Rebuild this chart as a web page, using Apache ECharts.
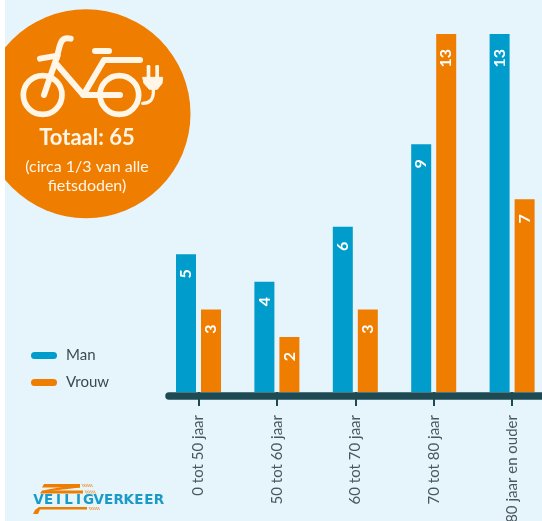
<!DOCTYPE html>
<html lang="nl">
<head>
    <meta charset="UTF-8">
    <title>Fietsdoden e-bike</title>
    <style>
        * { margin: 0; padding: 0; }
        html, body { background: #fff; overflow: hidden; }
        #myEcharts { width: 542px; height: 521px; }
    </style>
</head>
<body>
    <div id="myEcharts"></div>
    <script src="https://cdn.jsdelivr.net/npm/echarts@6/dist/echarts.min.js"></script>
    <script>
        var categories = ['0 tot 50 jaar', '50 tot 60 jaar', '60 tot 70 jaar', '70 tot 80 jaar', '80 jaar en ouder'];
        var manValues = [5, 4, 6, 9, 13];
        var vrouwValues = [3, 2, 3, 13, 7];
        var valueMax = 13;

        var BG = '#e6f4fc', BLUE = '#009ccb', ORANGE = '#ef7d00', DARK = '#1e4a54', CREAM = '#fff6e8';
        var FONT = 'Lato, "Noto Sans", sans-serif';

        function stroke(width) {
            return { fill: null, stroke: CREAM, lineWidth: width, lineCap: 'round', lineJoin: 'round' };
        }

        // fiets-icoon, getekend in 3x coordinaten en daarna terug geschaald
        function bikeIcon() {
            var lines = [
                [[172, 167], [132, 285]],
                [[120, 176], [172, 167]],
                [[172, 195], [250, 285], [360, 285]],
                [[250, 285], [312, 180], [420, 180]],
                [[285, 153], [327, 153]]
            ];
            var children = [
                { type: 'circle', z: 11, shape: { cx: 128, cy: 285, r: 58 }, style: stroke(17) },
                { type: 'circle', z: 11, shape: { cx: 358, cy: 285, r: 58 }, style: stroke(17) },
                { type: 'bezierCurve', z: 11, shape: { x1: 212, y1: 116, cpx1: 180, cpy1: 108, cpx2: 180, cpy2: 135, x2: 170, y2: 175 }, style: stroke(18) },
                { type: 'bezierCurve', z: 11, shape: { x1: 460, y1: 268, cpx1: 462, cpy1: 300, cpx2: 448, cpy2: 310, x2: 428, y2: 310 }, style: stroke(10) },
                { type: 'polygon', z: 11, shape: { points: [[428, 232], [488, 232], [486, 250], [472, 268], [448, 268], [432, 250]] }, style: { fill: CREAM, stroke: CREAM, lineWidth: 3, lineJoin: 'round' } },
                { type: 'rect', z: 11, shape: { x: 440, y: 195, width: 11, height: 40, r: 4 }, style: { fill: CREAM } },
                { type: 'rect', z: 11, shape: { x: 466, y: 195, width: 11, height: 40, r: 4 }, style: { fill: CREAM } }
            ];
            lines.forEach(function (pts) {
                children.push({ type: 'polyline', z: 11, shape: { points: pts }, style: stroke(18) });
            });
            return { type: 'group', scaleX: 1 / 3, scaleY: 1 / 3, children: children };
        }

        // logo VeiligVerkeer
        function logo() {
            var word = 'VEILIGVERKEER';
            var children = [];
            var stripes = [
                [[44, 484], [80, 484], [80, 487.5], [42, 487.5]],
                [[42, 490.5], [83, 490.5], [83, 493.5], [40, 493.5]],
                [[80, 484], [80, 487.5], [50, 491], [42, 490.5]],
                [[39, 507], [87, 507], [87, 509.5], [40, 509.5], [38, 514], [33, 514], [35, 510]]
            ];
            stripes.forEach(function (pts) {
                children.push({ type: 'polygon', shape: { points: pts }, style: { fill: ORANGE } });
            });
            // arcering achter de strepen
            [[81, 484, 6], [84, 490.5, 6], [88, 507, 6]].forEach(function (h) {
                for (var k = 0; k < h[2]; k++) {
                    children.push({
                        type: 'line',
                        shape: { x1: h[0] + k * 1.8 + 1, y1: h[1], x2: h[0] + k * 1.8 + 2.5, y2: h[1] + 3 },
                        style: { stroke: ORANGE, lineWidth: 0.9, opacity: 0.75 }
                    });
                }
            });
            for (var i = 0; i < word.length; i++) {
                children.push({
                    type: 'text',
                    style: {
                        x: 38.5 + i * 10.03, y: 500, text: word[i], fill: '#1a9ac6',
                        font: 'bold 13.5px "DejaVu Sans", sans-serif', align: 'center', verticalAlign: 'middle'
                    }
                });
            }
            return { type: 'group', children: children };
        }

        var option = {
            backgroundColor: BG,
            animation: false,
            grid: { left: 159.3, width: 392, top: 34, height: 358, outerBoundsMode: 'none' },
            legend: {
                left: 26,
                top: 343,
                orient: 'vertical',
                itemWidth: 26,
                itemHeight: 7,
                itemGap: 12,
                icon: 'path://M3.5 0H22.5A3.5 3.5 0 0 1 22.5 7H3.5A3.5 3.5 0 0 1 3.5 0Z',
                selectedMode: false,
                textStyle: { color: '#3c4a50', fontFamily: FONT, fontSize: 15, padding: [0, 0, 0, 4] },
                data: ['Man', 'Vrouw']
            },
            xAxis: {
                type: 'category',
                data: categories,
                axisLine: { show: false },
                axisTick: { show: true, alignWithLabel: true, length: 14, lineStyle: { color: DARK, width: 2 } },
                axisLabel: {
                    interval: 0, rotate: 90, margin: 23,
                    color: '#4a585e', fontFamily: FONT, fontSize: 15
                }
            },
            yAxis: { type: 'value', min: 0, max: valueMax, show: false },
            series: [
                { name: 'Man', data: manValues, color: BLUE },
                { name: 'Vrouw', data: vrouwValues, color: ORANGE }
            ].map(function (s) {
                return {
                    name: s.name,
                    type: 'bar',
                    data: s.data,
                    barWidth: 20,
                    barGap: '25%',
                    itemStyle: { color: s.color },
                    label: {
                        show: true,
                        position: 'insideTop',
                        distance: 15,
                        rotate: 90,
                        align: 'right',
                        verticalAlign: 'middle',
                        color: '#fff',
                        fontFamily: FONT,
                        fontWeight: 'bold',
                        fontSize: 16
                    }
                };
            }),
            graphic: [
                { type: 'circle', z: 10, shape: { cx: 86, cy: 113.7, r: 104.5 }, style: { fill: ORANGE } },
                bikeIcon(),
                { type: 'text', z: 11, style: { x: 87, y: 138, text: 'Totaal: 65', fill: CREAM, font: 'bold 22px ' + FONT, align: 'center', verticalAlign: 'middle' } },
                { type: 'text', z: 11, style: { x: 87, y: 167, text: '(circa 1/3 van alle', fill: CREAM, font: '16px ' + FONT, align: 'center', verticalAlign: 'middle' } },
                { type: 'text', z: 11, style: { x: 87, y: 186, text: 'fietsdoden)', fill: CREAM, font: '16px ' + FONT, align: 'center', verticalAlign: 'middle' } },
                logo(),
                { type: 'line', z: 12, shape: { x1: 169, y1: 396, x2: 548, y2: 396 }, style: { stroke: DARK, lineWidth: 7.5, lineCap: 'round' } },
                { type: 'rect', z: 20, shape: { x: 0, y: 0, width: 5, height: 521 }, style: { fill: '#fff' } }
            ]
        };

        var myEcharts = echarts.init(document.getElementById('myEcharts'), null, { renderer: 'canvas' });
        myEcharts.setOption(option);
    </script>
</body>
</html>
